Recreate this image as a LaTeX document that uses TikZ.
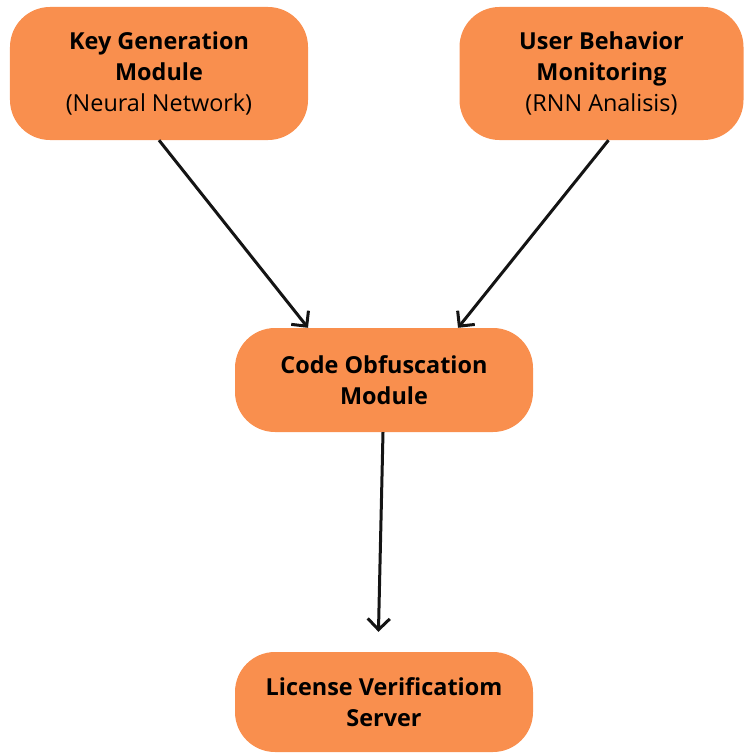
\documentclass[tikz,border=0pt]{standalone}
\usepackage{fontspec}
\setmainfont{Open Sans}
\usetikzlibrary{arrows.meta}
\definecolor{boxorange}{RGB}{249,143,78}
\definecolor{linecol}{RGB}{20,20,20}
\tikzset{
  box/.style={fill=boxorange, draw=none, rounded corners=40bp, align=center,
    font=\fontsize{23.5}{31}\selectfont, text=black, inner sep=0pt},
  conn/.style={draw=linecol, line width=3bp, -{Straight Barb[length=11bp,width=22bp,line width=3bp]}}
}
\begin{document}
\begin{tikzpicture}[x=1bp,y=-1bp]
\useasboundingbox (0,0) rectangle (745,753);
\node[box, minimum width=298bp, minimum height=133bp] (kg) at (159,73.5)
  {\textbf{Key Generation}\\\textbf{Module}\\(Neural Network)};
\node[box, minimum width=284bp, minimum height=133bp] (ub) at (601.5,73.5)
  {\textbf{User Behavior}\\\textbf{Monitoring}\\(RNN Analisis)};
\node[box, minimum width=298bp, minimum height=104bp] (co) at (384,380)
  {\textbf{Code Obfuscation}\\\textbf{Module}};
\node[box, minimum width=298bp, minimum height=100bp] (lv) at (384,702)
  {\textbf{License Verificatiom}\\\textbf{Server}};
\draw[conn] (kg.south) -- ([xshift=-76bp]co.north);
\draw[conn] ([xshift=7bp]ub.south) -- ([xshift=74bp]co.north);
\draw[conn, shorten >=20bp] ([xshift=-1bp]co.south) -- ([xshift=-6bp]lv.north);
\end{tikzpicture}
\end{document}
